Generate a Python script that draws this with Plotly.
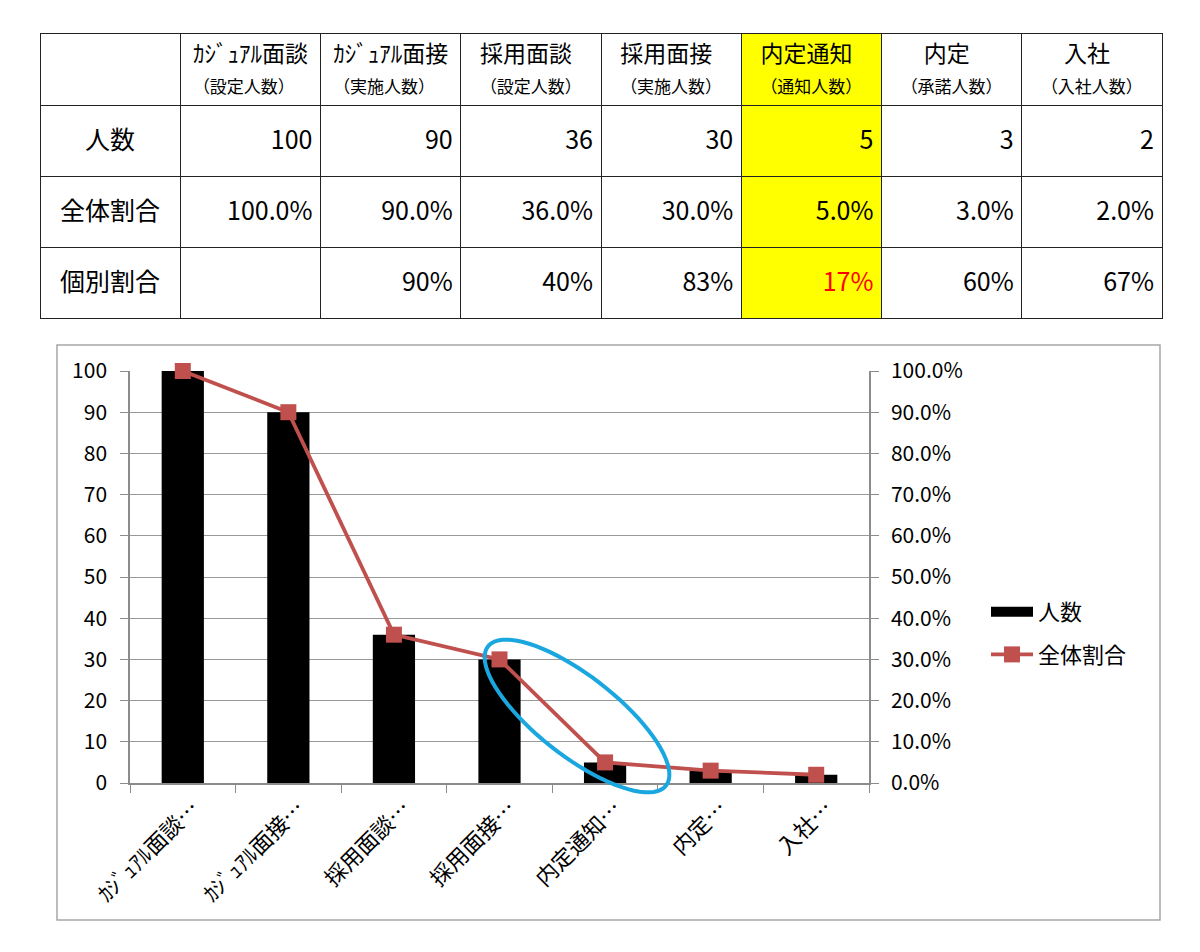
import numpy as np
import plotly.graph_objects as go

W, H = 1200, 952
OFF = 8  # the page body adds an 8px margin around the figure

# ---- data ----
stage_names = ["ｶｼﾞｭｱﾙ面談", "ｶｼﾞｭｱﾙ面接", "採用面談", "採用面接", "内定通知", "内定", "入社"]
stage_sub = ["（設定人数）", "（実施人数）", "（設定人数）", "（実施人数）", "（通知人数）", "（承諾人数）", "（入社人数）"]
axis_labels = ["ｶｼﾞｭｱﾙ面談…", "ｶｼﾞｭｱﾙ面接…", "採用面談…", "採用面接…", "内定通知…", "内定…", "入社…"]
row_labels = ["人数", "全体割合", "個別割合"]
counts = [100, 90, 36, 30, 5, 3, 2]
overall_pct = [100.0, 90.0, 36.0, 30.0, 5.0, 3.0, 2.0]
individual_pct = [None, 90, 40, 83, 17, 60, 67]
highlight_idx = 4

FONT = "Noto Sans CJK JP"
HEAD_FONT = "Liberation Sans, Noto Sans CJK JP"
IDSP = "\u3000"

def px_x(x):
    return (x - OFF) / W

def px_y(y):
    return 1 - (y - OFF) / H

def big(s, size=25):
    # an invisible tiny first line pushes the real text down to the middle of the cell
    return f"<span style='font-size:1px'>{IDSP}</span><br><span style='font-size:{size}px'>{s}</span>"

def head(name, sub):
    pad = IDSP * max(0, (4 - len(name)) // 2) if len(name) < 4 else ""
    return f"<span style='font-size:23px'>{pad}{name}{pad}</span><br><span style='font-size:17px'>{sub}</span>"

fig = go.Figure()

# ---- table ----
header_vals = [""] + [head(n, s) for n, s in zip(stage_names, stage_sub)]
cell_cols = [[big(r) for r in row_labels]]
for c, o, p in zip(counts, overall_pct, individual_pct):
    cell_cols.append([big(f"{c}"), big(f"{o:.1f}%"), big("" if p is None else f"{p}%")])

fills = ["white"] * 8
fills[highlight_idx + 1] = "#FFFF00"
font_colors = [["black"] * 3 for _ in range(8)]
font_colors[highlight_idx + 1][2] = "#FF0000"

fig.add_trace(go.Table(
    domain=dict(x=[px_x(40), px_x(1162)], y=[px_y(326), px_y(33)]),
    columnwidth=[140] * 8,
    header=dict(values=header_vals, fill=dict(color=fills), line=dict(color="#222222", width=1),
                align="center", height=70, font=dict(family=HEAD_FONT, size=24, color="black")),
    cells=dict(values=cell_cols, fill=dict(color=fills), line=dict(color="#222222", width=1),
               align=["center"] + ["right"] * 7, height=71,
               font=dict(family=FONT, size=27, color=font_colors)),
))

# ---- chart ----
fig.add_trace(go.Bar(x=axis_labels, y=counts, name="人数", marker=dict(color="black", line=dict(width=0)),
                     width=0.4, xaxis="x", yaxis="y", showlegend=False))
# legend entry for the bars drawn as a wide black swatch (Excel style)
fig.add_trace(go.Scatter(x=[None], y=[None], name="人数", mode="lines", line=dict(color="black", width=12),
                         legendgroup="a", xaxis="x", yaxis="y"))
fig.add_trace(go.Scatter(x=axis_labels, y=[v / 100 for v in overall_pct], name="全体割合", mode="lines+markers",
                         line=dict(color="#C0504D", width=3.8), cliponaxis=False,
                         marker=dict(symbol="square", size=16, color="#C0504D"),
                         legendgroup="b", xaxis="x", yaxis="y2"))

x0p, x1p = px_x(130), px_x(869)
y0p, y1p = px_y(783), px_y(371)

fig.update_layout(
    template="none",
    width=W, height=H,
    margin=dict(l=0, r=0, t=0, b=0, autoexpand=False),
    paper_bgcolor="white", plot_bgcolor="white",
    font=dict(family=FONT, color="black"),
    xaxis=dict(domain=[x0p, x1p], anchor="y", type="category", tickangle=-45, automargin=False,
               tickfont=dict(size=22), showline=True, linecolor="#8C8C8C", linewidth=1.5,
               ticks="outside", tickson="boundaries", ticklen=8, tickcolor="#8C8C8C",
               showgrid=False, zeroline=False, ticklabelshift=10, ticklabelstandoff=2),
    yaxis=dict(domain=[y0p, y1p], range=[0, 100], dtick=10, tickfont=dict(size=21), automargin=False,
               showline=True, linecolor="#8C8C8C", linewidth=1.5, ticks="outside", ticklen=8,
               tickcolor="#8C8C8C", showgrid=True, gridcolor="#999999", gridwidth=1.2,
               zeroline=False, ticklabelstandoff=9),
    yaxis2=dict(overlaying="y", side="right", anchor="x", range=[0, 1.0], dtick=0.1, tickformat=".1%",
                tickfont=dict(size=21), showline=True, linecolor="#8C8C8C", linewidth=1.5, automargin=False,
                ticks="outside", ticklen=8, tickcolor="#8C8C8C", showgrid=False, zeroline=False,
                ticklabelstandoff=8),
    legend=dict(x=px_x(986), y=px_y(591), xanchor="left", yanchor="top", font=dict(size=22),
                bgcolor="rgba(0,0,0,0)", borderwidth=0, itemwidth=42, tracegroupgap=11),
    showlegend=True,
)

# chart border
fig.add_shape(type="rect", xref="paper", yref="paper", x0=px_x(57), x1=px_x(1160), y0=px_y(920), y1=px_y(345),
              line=dict(color="#A6A6A6", width=1.5), layer="below")

# highlight ellipse (decoration)
cx, cy, a, b, th = 577, 716, 113, 40, np.deg2rad(38)
t = np.linspace(0, 2 * np.pi, 80)
ex = cx + a * np.cos(t) * np.cos(th) - b * np.sin(t) * np.sin(th)
ey = cy + a * np.cos(t) * np.sin(th) + b * np.sin(t) * np.cos(th)
path = "M " + " L ".join(f"{px_x(x):.5f},{px_y(y):.5f}" for x, y in zip(ex, ey)) + " Z"
fig.add_shape(type="path", xref="paper", yref="paper", path=path, line=dict(color="#1AA7E0", width=4))

fig.write_html("out.html")
